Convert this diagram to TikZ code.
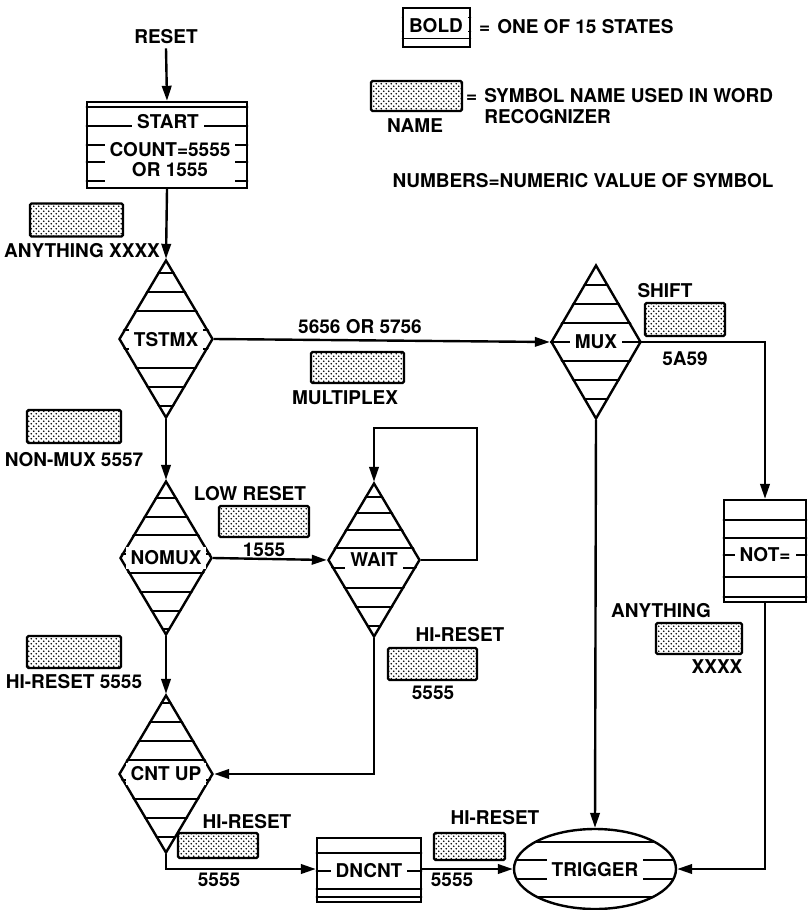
\documentclass[tikz,border=0pt]{standalone}
\usepackage{fontspec}
\setmainfont{TeX Gyre Heros}
\usetikzlibrary{arrows.meta,shapes.geometric,patterns,calc}

\pgfdeclarepatternformonly{sdots}{\pgfqpoint{-1pt}{-1pt}}{\pgfqpoint{6pt}{6pt}}{\pgfqpoint{5pt}{5pt}}{%
  \pgfpathcircle{\pgfqpoint{1.25pt}{1.25pt}}{0.8pt}%
  \pgfpathcircle{\pgfqpoint{3.75pt}{3.75pt}}{0.8pt}%
  \pgfusepath{fill}}

\newcommand\rstripes[2]{\begin{scope}\clip (#1.north west) rectangle (#1.south east);
  \foreach \d in {#2}{\draw[stripe] ($(#1.west)+(-5,\d)$) -- ($(#1.east)+(5,\d)$);}\end{scope}}
\newcommand\dstripes[2]{\begin{scope}\clip (#1.north) -- (#1.east) -- (#1.south) -- (#1.west) -- cycle;
  \foreach \d in {#2}{\draw[stripe] ($(#1.west)+(-5,\d)$) -- ($(#1.east)+(5,\d)$);}\end{scope}}
\newcommand\estripes[2]{\begin{scope}\clip (#1.center) ellipse [x radius=81, y radius=40];
  \foreach \d in {#2}{\draw[stripe] ($(#1.west)+(-5,\d)$) -- ($(#1.east)+(5,\d)$);}\end{scope}}

\tikzset{
  every node/.style={font=\bfseries\fontsize{19}{21}\selectfont},
  lbl/.style={inner sep=1pt},
  mask/.style={fill=white, inner xsep=5pt, inner ysep=4pt},
  sym/.style={draw, line width=2.4pt, pattern=sdots, rounded corners=1.5pt, inner sep=0pt},
  box/.style={draw, line width=2.4pt, rectangle, inner sep=0pt},
  dia/.style={draw, line width=2.4pt, diamond, inner sep=0pt, minimum width=94pt, minimum height=158pt},
  ell/.style={draw, line width=2.4pt, ellipse, inner sep=0pt, minimum width=162pt, minimum height=80pt},
  stripe/.style={line width=1.2pt},
  conn/.style={line width=2.4pt},
  arr/.style={conn, -{Triangle[length=15pt,width=9.5pt]}}
}

\begin{document}
\begin{tikzpicture}[x=1pt,y=-1pt]
\useasboundingbox (0,0) rectangle (808,910);

% ---------- legend ----------
\node[box, minimum width=67pt, minimum height=39pt] (lbold) at (436.5,27.5) {};
\rstripes{lbold}{-10,4,11}
\node[mask, inner ysep=3pt] (lboldt) at (436,26) {BOLD};
\node[lbl, anchor=west] (lstates) at (478,27) {=\hspace{7pt}ONE OF 15 STATES};
\node[sym, minimum width=91pt, minimum height=30pt] (lsym) at (416.5,96) {};
\node[lbl] (lname) at (415,126) {NAME};
\node[lbl, anchor=north west, align=left] (lsymt) at (465,87) {=\hspace{7pt}SYMBOL NAME USED IN WORD\\\hphantom{=\hspace{7pt}}RECOGNIZER};
\node[lbl] (lnum) at (583,181) {NUMBERS=NUMERIC VALUE OF SYMBOL};

% ---------- states ----------
\node[lbl, inner sep=4pt] (reset) at (166,37) {RESET};
\node[box, minimum width=160pt, minimum height=86pt] (start) at (167,145) {};
\rstripes{start}{-38,-19,0,17,36}
\node[mask] (startt) at (168,122) {START};
\node[mask, align=center, inner ysep=5pt] (countt) at (170,160) {COUNT=5555\\[-1pt]OR 1555};

\node[dia] (tstmx) at (166,339) {};
\dstripes{tstmx}{-66,-47,-28,-9,10,29,48,67}
\node[mask] (tstmxt) at (166,340) {TSTMX};

\node[dia, minimum width=90pt, minimum height=154pt] (mux) at (596,342) {};
\dstripes{mux}{-57,-38,-19,0,19,38,57}
\node[mask] (muxt) at (596,342) {MUX};

\node[dia, minimum width=92pt, minimum height=154pt] (nomux) at (166,558) {};
\dstripes{nomux}{-60,-41,-23,-4,15,34,53,71}
\node[mask] (nomuxt) at (166,558) {NOMUX};

\node[dia, minimum width=92pt, minimum height=154pt] (wait) at (374,560) {};
\dstripes{wait}{-63,-47,-30,-12,8,28,47,66}
\node[mask] (waitt) at (374,560) {WAIT};

\node[dia] (cnt) at (166,774) {};
\dstripes{cnt}{-71,-52,-33,-14,6,25,44,63}
\node[mask] (cntt) at (166,774) {CNT UP};

\node[box, minimum width=82pt, minimum height=102pt] (noteq) at (765,551) {};
\rstripes{noteq}{-31,-13,4,26,46}
\node[mask] (noteqt) at (765,555) {NOT=};

\node[box, minimum width=104pt, minimum height=64pt] (dn) at (369,870) {};
\rstripes{dn}{-17,1,19,27}
\node[mask] (dnt) at (369,871) {DNCNT};

\node[ell] (trig) at (595,869) {};
\estripes{trig}{-27,-9,10,28}
\node[mask] (trigt) at (595,870) {TRIGGER};

% ---------- connectors ----------
\draw[arr] (reset.south) -- (start.north);
\draw[arr] (start.south) -- (tstmx.north);
\draw[arr] (tstmx.east) -- (mux.west);
\draw[arr] (tstmx.south) -- (nomux.north);
\draw[arr] (mux.east) -| (noteq.north);
\draw[arr] (nomux.east) -- (wait.west);
\coordinate (loopc) at (477,428);
\draw[arr] (wait.east) -| (loopc) -| (wait.north);
\draw[arr] (wait.south) |- (cnt.east);
\draw[arr] (nomux.south) -- (cnt.north);
\draw[arr] (mux.south) -- (trig.north);
\draw[arr] (cnt.south) |- (trig.west -| dn.west);
\draw[arr] (dn.east |- trig.west) -- (trig.west);
\draw[arr] (noteq.south) |- (trig.east);

% ---------- symbol labels ----------
\node[sym, minimum width=93pt, minimum height=33pt] (s1) at (76.5,220) {};
\node[lbl] (s1t) at (82,251) {ANYTHING XXXX};

\node[lbl] (s2a) at (360,327) {5656 OR 5756};
\node[sym, minimum width=93pt, minimum height=31pt] (s2) at (357.5,367.5) {};
\node[lbl] (s2t) at (345,398) {MULTIPLEX};

\node[lbl] (s3a) at (665,291) {SHIFT};
\node[sym, minimum width=80pt, minimum height=33pt] (s3) at (685,319.5) {};
\node[lbl] (s3t) at (685,359) {5A59};

\node[sym, minimum width=94pt, minimum height=33pt] (s4) at (74,426.5) {};
\node[lbl] (s4t) at (74,460) {NON-MUX 5557};

\node[lbl] (s5a) at (250,494) {LOW RESET};
\node[sym, minimum width=90pt, minimum height=31pt] (s5) at (264,521.5) {};
\node[lbl] (s5t) at (264,550) {1555};

\node[sym, minimum width=94pt, minimum height=32pt] (s6) at (74,652) {};
\node[lbl] (s6t) at (74,682) {HI-RESET 5555};

\node[lbl] (s7a) at (460,635) {HI-RESET};
\node[sym, minimum width=89pt, minimum height=32pt] (s7) at (432.5,664) {};
\node[lbl] (s7t) at (433,693) {5555};

\node[lbl] (s8a) at (661,611) {ANYTHING};
\node[sym, minimum width=86pt, minimum height=31pt] (s8) at (699,638.5) {};
\node[lbl] (s8t) at (717,667) {XXXX};

\node[lbl] (s9a) at (247,822) {HI-RESET};
\node[sym, minimum width=80pt, minimum height=25pt] (s9) at (218,845.5) {};
\node[lbl] (s9t) at (219,880) {5555};

\node[lbl] (s10a) at (495,818) {HI-RESET};
\node[sym, minimum width=71pt, minimum height=27pt] (s10) at (469.5,846.5) {};
\node[lbl] (s10t) at (452,880) {5555};
\end{tikzpicture}
\end{document}
